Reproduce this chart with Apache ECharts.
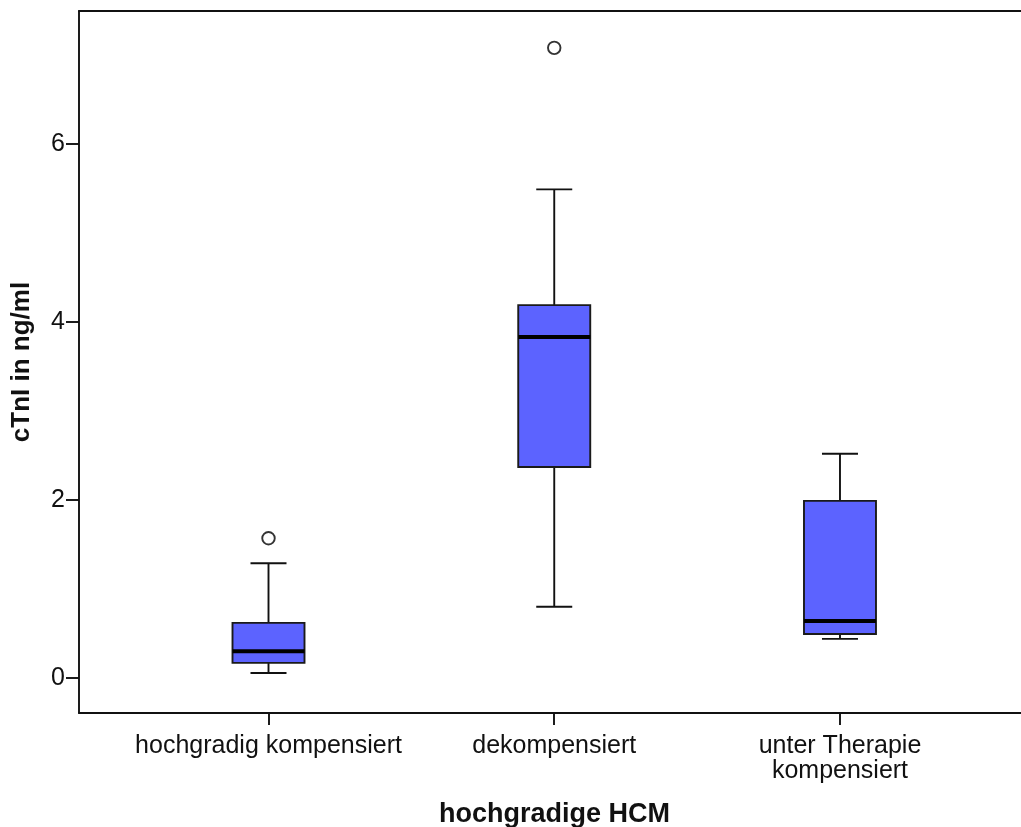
<!DOCTYPE html>
<html>
<head>
<meta charset="utf-8">
<script src="https://cdn.jsdelivr.net/npm/echarts@6/dist/echarts.min.js"></script>
<style>
html,body{margin:0;padding:0;background:#fff;}
#c{width:1021px;height:827px;}
</style>
</head>
<body>
<div id="c"></div>
<script>
// ---- data ----
const categories = ['hochgradig kompensiert', 'dekompensiert', 'unter Therapie\nkompensiert'];
const whiskerLow  = [0.056, 0.80, 0.44];
const q1          = [0.17, 2.37, 0.494];
const median      = [0.30, 3.83, 0.64];
const q3          = [0.62, 4.19, 1.99];
const whiskerHigh = [1.29, 5.49, 2.52];
const outlierGroup = [0, 1];
const outlierValue = [1.57, 7.08];
const yTicks = [0, 2, 4, 6];
const xPositions = [1, 2, 3];

const boxData = categories.map((c, i) => [xPositions[i], whiskerLow[i], q1[i], median[i], q3[i], whiskerHigh[i]]);
const outlierData = outlierGroup.map((g, i) => [xPositions[g], outlierValue[i]]);

const FONT = '"Liberation Sans", Arial, sans-serif';
const chart = echarts.init(document.getElementById('c'));

function renderBox(params, api) {
  const x = api.value(0);
  const pLow = api.coord([x, api.value(1)]);
  const pQ1 = api.coord([x, api.value(2)]);
  const pMed = api.coord([x, api.value(3)]);
  const pQ3 = api.coord([x, api.value(4)]);
  const pHigh = api.coord([x, api.value(5)]);
  const cx = pMed[0];
  const hw = 36, cw = 18;
  const lineStyle = { stroke: '#111', lineWidth: 1.9, fill: null };
  return {
    type: 'group',
    children: [
      { type: 'line', shape: { x1: cx, y1: pQ3[1], x2: cx, y2: pHigh[1] }, style: lineStyle },
      { type: 'line', shape: { x1: cx, y1: pQ1[1], x2: cx, y2: pLow[1] }, style: lineStyle },
      { type: 'line', shape: { x1: cx - cw, y1: pHigh[1], x2: cx + cw, y2: pHigh[1] }, style: lineStyle },
      { type: 'line', shape: { x1: cx - cw, y1: pLow[1], x2: cx + cw, y2: pLow[1] }, style: lineStyle },
      { type: 'rect', shape: { x: cx - hw, y: pQ3[1], width: 2 * hw, height: pQ1[1] - pQ3[1] },
        style: { fill: '#5c63ff', stroke: '#1a1a1a', lineWidth: 1.9 } },
      { type: 'line', shape: { x1: cx - hw, y1: pMed[1], x2: cx + hw, y2: pMed[1] },
        style: { stroke: '#000', lineWidth: 4 } }
    ]
  };
}

chart.setOption({
  animation: false,
  backgroundColor: '#fff',
  grid: { left: 79, right: -9, top: 11, bottom: 114, containLabel: false, outerBoundsMode: 'none' },
  xAxis: [{
    type: 'value',
    min: 0.3368, max: 3.665,
    position: 'bottom',
    splitLine: { show: false },
    axisLine: { show: true, onZero: false, lineStyle: { color: '#111', width: 1.9 } },
    axisTick: { show: true, customValues: xPositions, length: 12, inside: false, lineStyle: { color: '#111', width: 1.9 } },
    axisLabel: {
      customValues: xPositions,
      formatter: v => categories[Math.round(v) - 1] || '',
      fontFamily: FONT, fontSize: 25, color: '#111', margin: 21, lineHeight: 25
    },
    name: 'hochgradige HCM',
    nameLocation: 'middle',
    nameGap: 88,
    nameTextStyle: { fontFamily: FONT, fontSize: 27, fontWeight: 'bold', color: '#111' }
  }, {
    type: 'value',
    min: 0.3368, max: 3.665,
    position: 'top',
    splitLine: { show: false },
    axisLine: { show: true, onZero: false, lineStyle: { color: '#111', width: 1.9 } },
    axisTick: { show: false },
    axisLabel: { show: false }
  }],
  yAxis: {
    type: 'value',
    min: -0.393, max: 7.494,
    splitLine: { show: false },
    axisLine: { show: true, onZero: false, lineStyle: { color: '#111', width: 1.9 } },
    axisTick: { show: true, customValues: yTicks, length: 13, lineStyle: { color: '#111', width: 1.9 } },
    axisLabel: { customValues: yTicks, fontFamily: FONT, fontSize: 25, color: '#111', margin: 14 },
    name: 'cTnI in ng/ml',
    nameLocation: 'middle',
    nameGap: 44,
    nameRotate: 90,
    nameTextStyle: { fontFamily: FONT, fontSize: 26, fontWeight: 'bold', color: '#111' }
  },
  series: [{
    type: 'custom',
    xAxisIndex: 0,
    renderItem: renderBox,
    encode: { x: 0, y: [1, 2, 3, 4, 5] },
    data: boxData,
    z: 2
  }, {
    type: 'scatter',
    xAxisIndex: 0,
    data: outlierData,
    symbol: 'circle',
    symbolSize: 12.5,
    itemStyle: { color: '#fff', borderColor: '#000', borderWidth: 1.9 },
    z: 3
  }]
});
</script>
</body>
</html>
